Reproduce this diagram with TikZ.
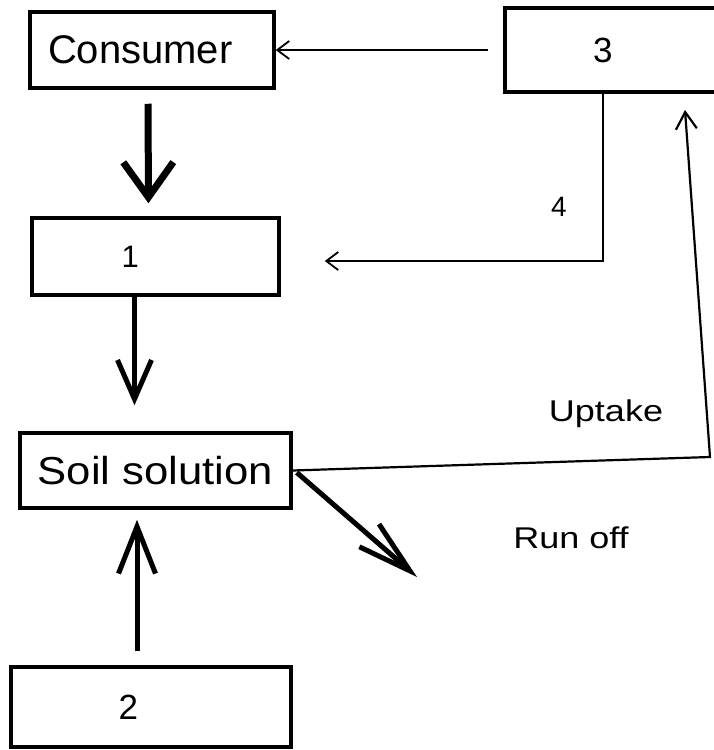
\documentclass[tikz,border=0pt]{standalone}
\usepackage{fontspec}
\setmainfont{Liberation Sans}
\usepackage{graphicx}
\usetikzlibrary{arrows.meta}
\begin{document}
\begin{tikzpicture}[x=1pt,y=-1pt,
  boxnode/.style={draw, line width=3.5pt, inner ysep=0pt},
  thinarrow/.style={line width=1.8pt, -{Straight Barb[length=12pt,width=18pt]}},
  thickline/.style={line width=5pt},
  lbl/.style={inner sep=0pt}
]
\useasboundingbox (0,0) rectangle (714,750);

% boxes
\node[boxnode, minimum height=76pt, text width=208pt, align=left, inner xsep=18pt,
      font=\fontsize{40}{48}\selectfont] (consumer) at (152,50) {Consumer};
\node[boxnode, minimum height=84pt, text width=41pt, align=left, inner xsep=88pt,
      font=\fontsize{35}{42}\selectfont] (box3) at (613.5,50) {3};
\node[boxnode, minimum height=77pt, text width=68pt, align=left, inner xsep=89.5pt,
      font=\fontsize{31}{37}\selectfont] (box1) at (155.5,256.5) {1};
\node[boxnode, minimum height=75pt, minimum width=271pt, inner xsep=0pt,
      font=\fontsize{39}{47}\selectfont] (soil) at (155.5,470.5) {\scalebox{1.12}[1]{Soil solution}};
\node[boxnode, minimum height=80pt, text width=65pt, align=left, inner xsep=107.5pt,
      font=\fontsize{35}{42}\selectfont] (box2) at (151,707) {2};

% labels
\node[lbl, font=\fontsize{28}{34}\selectfont] (lab4) at (559,207) {4};
\node[lbl, font=\fontsize{30}{36}\selectfont] (labup) at (606,414) {\scalebox{1.2}[1]{Uptake}};
\node[lbl, font=\fontsize{30}{36}\selectfont] (labrun) at (571,538) {\scalebox{1.2}[1]{Run off}};

% coordinates
\coordinate (k) at (603,261);
\coordinate (ucorner) at (710,457);
\coordinate (utip) at (685,110);
\coordinate (rotip) at (417,577);

% connectors
\draw[thinarrow, shorten <=15pt] (box3.west) -- (consumer.east);
\draw[line width=7pt, -{Straight Barb[length=35pt,width=50pt]}, shorten <=14pt, shorten >=13pt]
  ([xshift=-4pt]consumer.south) -- ([xshift=-7pt]box1.north);
\draw[thinarrow, shorten >=44pt] (k |- box3.south) -- (k) -- (k -| box1.east);
\draw[thickline, -{Straight Barb[length=39pt,width=34pt]}, shorten >=26pt]
  ([xshift=-21pt]box1.south) -- ([xshift=-21pt]soil.north);
\draw[thickline, -{Straight Barb[length=47pt,width=37pt]}, shorten <=14pt, shorten >=10pt]
  ([xshift=-14pt]box2.north) -- ([xshift=-18.5pt]soil.south);
\draw[thinarrow, line width=2.2pt, -{Straight Barb[length=17pt,width=21pt]}]
  (soil.east) -- (ucorner) -- (utip);
\draw[thickline, -{Straight Barb[length=54pt,width=30pt]}]
  ([xshift=4pt,yshift=-2pt]soil.east) -- (rotip);
\end{tikzpicture}
\end{document}
